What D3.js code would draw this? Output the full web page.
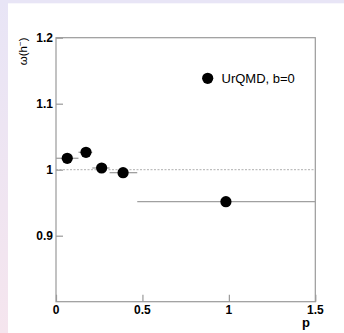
<!DOCTYPE html>
<html><head><meta charset="utf-8">
<script src="https://cdn.jsdelivr.net/npm/d3@7"></script>
<style>html,body{margin:0;padding:0;background:#fff;}svg{display:block;}</style>
</head><body>
<script>
const pCenter = [0.065, 0.1735, 0.264, 0.388, 0.983];
const pLow    = [0.0, 0.13, 0.21, 0.31, 0.47];
const pHigh   = [0.13, 0.21, 0.31, 0.47, 1.5];
const omega   = [1.0173, 1.0264, 1.0026, 0.9955, 0.9515];
const xTicks = [0, 0.5, 1, 1.5];
const xTickLabels = ["0", "0.5", "1", "1.5"];
const yTicks = [0.9, 1, 1.1, 1.2];
const yTickLabels = ["0.9", "1", "1.1", "1.2"];
const legendLabel = "UrQMD, b=0";

const W = 344, H = 333;
const svg = d3.select("body").append("svg").attr("width", W).attr("height", H);

const defs = svg.append("defs");
const g1 = defs.append("linearGradient").attr("id","bgL").attr("x1",0).attr("y1",0).attr("x2",0).attr("y2",1);
g1.append("stop").attr("offset","0%").attr("stop-color","#e8e5f6");
g1.append("stop").attr("offset","100%").attr("stop-color","#f5e5ee");
svg.append("rect").attr("x",0).attr("y",0).attr("width",8).attr("height",H).attr("fill","url(#bgL)");
svg.append("rect").attr("x",0).attr("y",0).attr("width",W).attr("height",3.3).attr("fill","#e8e5f6");

const L = 56, R = 315.3, T = 37.7, B = 301.7;
const x = d3.scaleLinear().domain([0, 1.5]).range([L, R]);
const y = d3.scaleLinear().domain([0.8, 1.2]).range([B, T]);

const axisCol = "#9a9a9a";
svg.append("line").attr("x1", x(0)).attr("x2", x(1.5)).attr("y1", y(1)).attr("y2", y(1))
  .attr("stroke", "#999").attr("stroke-width", 0.8).attr("stroke-dasharray", "2,1.5");

svg.append("rect").attr("x", L).attr("y", T).attr("width", R - L).attr("height", B - T)
  .attr("fill", "none").attr("stroke", axisCol).attr("stroke-width", 1.2);

const xAxis = d3.axisTop(x).tickValues(xTicks).tickSize(7).tickFormat("");
const gx = svg.append("g").attr("transform", `translate(0,${B})`).call(xAxis);
gx.select(".domain").remove();
gx.selectAll("line").attr("stroke", axisCol).attr("stroke-width", 1.2);

const yAxis = d3.axisRight(y).tickValues(yTicks).tickSize(7).tickFormat("");
const gy = svg.append("g").attr("transform", `translate(${L},0)`).call(yAxis);
gy.select(".domain").remove();
gy.selectAll("line").attr("stroke", axisCol).attr("stroke-width", 1.2);

const font = "'Liberation Sans', Arial, Helvetica, sans-serif";
svg.append("g").selectAll("text").data(xTicks).join("text")
  .attr("x", d => x(d)).attr("y", 314.3).attr("text-anchor", "middle")
  .attr("font-family", font).attr("font-weight", "bold").attr("font-size", 12)
  .text((d, i) => xTickLabels[i]);
svg.append("g").selectAll("text").data(yTicks).join("text")
  .attr("x", L - 3).attr("y", d => y(d) + 4.3).attr("text-anchor", "end")
  .attr("font-family", font).attr("font-weight", "bold").attr("font-size", 12)
  .text((d, i) => yTickLabels[i]);

svg.append("text").attr("x", 310).attr("y", 326.5).attr("text-anchor", "end")
  .attr("font-family", font).attr("font-weight", "bold").attr("font-size", 13).text("p");
const yt = svg.append("text").attr("transform", "translate(27,37.5) rotate(-90)")
  .attr("text-anchor", "end").attr("font-family", font).attr("font-size", 11.5);
yt.append("tspan").text("\u03c9(h");
yt.append("tspan").attr("font-size", 8).attr("dy", -4).text("\u2212");
yt.append("tspan").attr("dy", 4).text(")");

const data = pCenter.map((p, i) => ({p, lo: pLow[i], hi: pHigh[i], v: omega[i]}));
svg.append("g").selectAll("line").data(data).join("line")
  .attr("x1", d => x(d.lo)).attr("x2", d => x(d.hi))
  .attr("y1", d => y(d.v)).attr("y2", d => y(d.v))
  .attr("stroke", "#a0a0a0").attr("stroke-width", 1.3);
svg.append("g").selectAll("circle").data(data).join("circle")
  .attr("cx", d => x(d.p)).attr("cy", d => y(d.v)).attr("r", 5.6).attr("fill", "#000");

svg.append("circle").attr("cx", 207.7).attr("cy", 78.3).attr("r", 5.6).attr("fill", "#000");
svg.append("text").attr("x", 221.5).attr("y", 82.8).attr("font-family", font)
  .attr("font-size", 13).attr("fill", "#000").text(legendLabel);
</script>
</body></html>
